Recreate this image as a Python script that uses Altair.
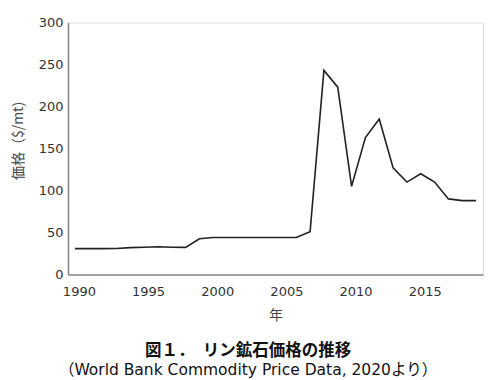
import altair as alt
import pandas as pd

years = list(range(1990, 2020))
prices = [30.8, 30.8, 30.8, 31.0, 32.0, 32.5, 33.0, 32.5, 32.3, 42.5,
          44.0, 44.0, 44.0, 44.0, 44.0, 44.0, 44.0, 51.0, 243.0, 223.0,
          105.0, 163.0, 185.0, 127.0, 110.0, 120.0, 110.0, 90.0, 88.0, 88.0]
x_ticks = [1990, 1995, 2000, 2005, 2010, 2015]
y_ticks = [0, 50, 100, 150, 200, 250, 300]

df = pd.DataFrame({"year": years, "price": prices})

lab_font = "DejaVu Sans"

chart = alt.Chart(df).mark_line(color="#222222", strokeWidth=1.6).encode(
    x=alt.X("year:Q", scale=alt.Scale(domain=[1989.5, 2019.5], nice=False, zero=False),
            axis=alt.Axis(values=x_ticks, format="d", title="年", grid=False, ticks=False,
                          domainColor="#888888", domainWidth=1.6,
                          labelFont=lab_font, labelFontSize=13, labelColor="#333333",
                          labelPadding=11, labelOffset=4,
                          titleFont="Noto Sans CJK JP", titleFontSize=14, titleFontWeight="normal",
                          titleColor="#444444", titlePadding=10)),
    y=alt.Y("price:Q", scale=alt.Scale(domain=[0, 300], nice=False),
            axis=alt.Axis(values=y_ticks, title="価格（$/mt)", grid=False, ticks=False,
                          domainColor="#888888", domainWidth=1.6,
                          labelFont=lab_font, labelFontSize=13, labelColor="#333333",
                          labelPadding=5,
                          titleFont="Noto Sans CJK JP", titleFontSize=14, titleFontWeight="normal",
                          titleColor="#444444", titleX=-43, titleY=118)),
).properties(
    width=415, height=252,
    title=alt.TitleParams(
        text="図１．　リン鉱石価格の推移",
        subtitle="（World Bank Commodity Price Data, 2020より）",
        orient="bottom", anchor="middle", dx=-27.5, offset=20,
        font="Noto Sans CJK JP", fontSize=16.5, fontWeight="bold", color="#111111",
        subtitleFont="DejaVu Sans, Noto Sans CJK JP", subtitleFontSize=15.5, subtitleColor="#111111",
        subtitlePadding=4,
    ),
    autosize=alt.AutoSizeParams(type="none"),
    padding={"left": 60, "top": 14.5, "right": 8, "bottom": 104},
).configure_view(stroke=None).configure(background="white")

chart.save("out.html", embed_options={"renderer": "svg", "actions": False})
